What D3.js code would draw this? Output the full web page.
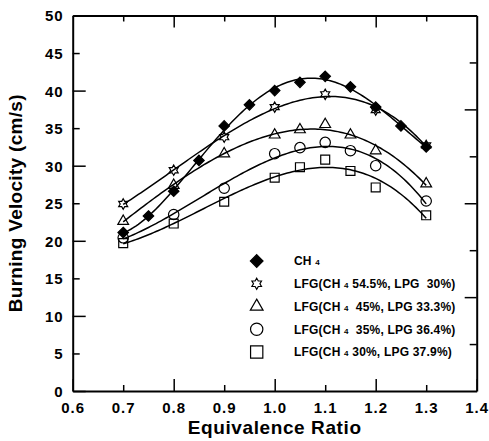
<!DOCTYPE html>
<html>
<head>
<meta charset="utf-8">
<script src="https://cdn.jsdelivr.net/npm/d3@7"></script>
<style>
  html, body { margin: 0; padding: 0; background: #fff; }
  svg { display: block; font-family: "Liberation Sans", Arial, Helvetica, sans-serif; }
</style>
</head>
<body>
<svg id="chart" width="489" height="441"></svg>
<script>
// Burning velocity of CH4 and landfill-gas blends vs. equivalence ratio
const seriesNames = ["CH4", "LFG54", "LFG45", "LFG35", "LFG30"];
const legendMain = ["CH ", "LFG(CH ", "LFG(CH ", "LFG(CH ", "LFG(CH "];
const legendTail = ["", " 54.5%, LPG  30%)", "  45%, LPG 33.3%)", "  35%, LPG 36.4%)", " 30%, LPG 37.9%)"];

const phiCH4 = [0.7, 0.75, 0.8, 0.85, 0.9, 0.95, 1.0, 1.05, 1.1, 1.15, 1.2, 1.25, 1.3];
const velCH4 = [21.1, 23.3, 26.6, 30.7, 35.3, 38.1, 40.0, 41.1, 41.9, 40.5, 37.8, 35.3, 32.5];

const phiLFG = [0.7, 0.8, 0.9, 1.0, 1.05, 1.1, 1.15, 1.2, 1.3];
const phiLFG54 = [0.7, 0.8, 0.9, 1.0, 1.1, 1.2, 1.3];
const velLFG54 = [24.9, 29.4, 33.8, 37.8, 39.5, 37.4, 32.7];
const velLFG45 = [22.6, 27.4, 31.6, 34.1, 34.8, 35.5, 34.1, 32.0, 27.6];
const velLFG35 = [20.4, 23.5, 27.0, 31.6, 32.4, 33.1, 32.0, 30.0, 25.3];
const velLFG30 = [19.7, 22.3, 25.2, 28.4, 29.8, 30.8, 29.3, 27.1, 23.4];

const xTicks = [0.6, 0.7, 0.8, 0.9, 1.0, 1.1, 1.2, 1.3, 1.4];
const yTicks = [0, 5, 10, 15, 20, 25, 30, 35, 40, 45, 50];
const rightTicks = [1, 2, 3, 4, 5, 6, 7];

const svg = d3.select("#chart");
const L = 72.7, R = 476.7, T = 15.5, B = 391;
const x = d3.scaleLinear().domain([0.6, 1.4]).range([L, R]);
const y = d3.scaleLinear().domain([0, 50]).range([B, T]);
const yRight = d3.scaleLinear().domain([0, 8]).range([B, T]);

// six-pointed outline star
const hexagram = {
  draw(ctx, size) {
    const r = Math.sqrt(size) * 0.62, ri = r * 0.577;
    for (let i = 0; i < 12; i++) {
      const a = -Math.PI / 2 + i * Math.PI / 6;
      const rr = i % 2 === 0 ? r : ri;
      const px = rr * Math.cos(a), py = rr * Math.sin(a);
      if (i === 0) ctx.moveTo(px, py); else ctx.lineTo(px, py);
    }
    ctx.closePath();
  }
};
// square turned 45 degrees
const diamond = {
  draw(ctx, size) {
    const r = Math.sqrt(size / 2);
    ctx.moveTo(0, -r); ctx.lineTo(r, 0); ctx.lineTo(0, r); ctx.lineTo(-r, 0);
    ctx.closePath();
  }
};

const series = [
  { xs: phiCH4, ys: velCH4, deg: 4, type: diamond, size: 55, legSize: 80, fill: "#000" },
  { xs: phiLFG54, ys: velLFG54, deg: 3, type: hexagram, size: 70, legSize: 80, fill: "none" },
  { xs: phiLFG, ys: velLFG45, deg: 3, type: d3.symbolTriangle, size: 50, legSize: 70, fill: "none" },
  { xs: phiLFG, ys: velLFG35, deg: 3, type: d3.symbolCircle, size: 85, legSize: 120, fill: "none" },
  { xs: phiLFG, ys: velLFG30, deg: 3, type: d3.symbolSquare, size: 80, legSize: 150, fill: "none" }
];

// least-squares polynomial trend line
function polyfit(xs, ys, deg) {
  const n = deg + 1;
  const A = Array.from({ length: n }, () => new Array(n + 1).fill(0));
  xs.forEach((xv, k) => {
    const t = xv - 1.0;
    for (let i = 0; i < n; i++) {
      for (let j = 0; j < n; j++) A[i][j] += Math.pow(t, i + j);
      A[i][n] += ys[k] * Math.pow(t, i);
    }
  });
  for (let c = 0; c < n; c++) {
    let p = c;
    for (let r = c + 1; r < n; r++) if (Math.abs(A[r][c]) > Math.abs(A[p][c])) p = r;
    [A[c], A[p]] = [A[p], A[c]];
    for (let r = 0; r < n; r++) {
      if (r === c) continue;
      const f = A[r][c] / A[c][c];
      for (let k = c; k <= n; k++) A[r][k] -= f * A[c][k];
    }
  }
  const coef = A.map((row, i) => row[n] / row[i]);
  return xv => coef.reduce((s, c, i) => s + c * Math.pow(xv - 1.0, i), 0);
}

const line = d3.line().x(d => x(d[0])).y(d => y(d[1])).curve(d3.curveLinear);
const fitX = d3.range(0.7, 1.3001, 0.005);

const plot = svg.append("g");
series.forEach(s => {
  const f = polyfit(s.xs, s.ys, s.deg);
  plot.append("path")
    .attr("d", line(fitX.map(v => [v, f(v)])))
    .attr("fill", "none").attr("stroke", "#000").attr("stroke-width", 1.5);
});
series.forEach(s => {
  const sym = d3.symbol().type(s.type).size(s.size);
  plot.selectAll(null).data(s.xs.map((v, i) => [v, s.ys[i]])).enter()
    .append("path")
    .attr("transform", d => `translate(${x(d[0])},${y(d[1])})`)
    .attr("d", sym)
    .attr("fill", s.fill).attr("stroke", "#000").attr("stroke-width", 1.2);
});

// axes: inward ticks, major ticks longer
const fmtX = d3.format(".1f");
const isMajorX = v => Math.round(v * 10) % 2 === 0;

const gx = svg.append("g").attr("transform", `translate(0,${B})`)
  .call(d3.axisBottom(x).tickValues(xTicks).tickFormat(fmtX).tickSizeOuter(0).tickPadding(0));
gx.selectAll(".tick line").attr("y2", d => isMajorX(d) ? -12 : -6);
gx.selectAll(".tick text").attr("y", 11);

const gxTop = svg.append("g").attr("transform", `translate(0,${T})`)
  .call(d3.axisTop(x).tickValues(xTicks.slice(1, -1)).tickFormat("").tickSizeOuter(0));
gxTop.selectAll(".tick line").attr("y2", d => isMajorX(d) ? 12 : 6);

const gy = svg.append("g").attr("transform", `translate(${L},0)`)
  .call(d3.axisLeft(y).tickValues(yTicks).tickFormat(d3.format("d")).tickSizeOuter(0).tickPadding(0));
gy.selectAll(".tick line").attr("x2", d => d % 10 === 0 ? 13 : 7);
gy.selectAll(".tick text").attr("x", -9).attr("dy", "0.36em");

const gyR = svg.append("g").attr("transform", `translate(${R},0)`)
  .call(d3.axisRight(yRight).tickValues(rightTicks).tickFormat("").tickSizeOuter(0));
gyR.selectAll(".tick line").attr("x2", d => d % 2 === 0 ? -12 : -7);

svg.selectAll(".domain").attr("stroke", "#000").attr("stroke-width", 2);
svg.selectAll(".tick line").attr("stroke", "#000").attr("stroke-width", 1.5);
svg.selectAll(".tick text")
  .attr("font-family", "'Liberation Sans', Arial, sans-serif")
  .attr("font-size", 15).attr("font-weight", "bold")
  .attr("letter-spacing", 1).attr("fill", "#000");

// axis titles
svg.append("text")
  .attr("x", (L + R) / 2).attr("y", 434)
  .attr("text-anchor", "middle")
  .attr("font-size", 19).attr("font-weight", "bold").attr("letter-spacing", 0.6)
  .text("Equivalence Ratio");
svg.append("text")
  .attr("transform", `translate(22,${(T + B) / 2}) rotate(-90)`)
  .attr("text-anchor", "middle")
  .attr("font-size", 19).attr("font-weight", "bold").attr("letter-spacing", 0.3)
  .text("Burning Velocity (cm/s)");

// legend
const legend = svg.append("g");
series.forEach((s, i) => {
  const cy = 261 + i * 22.75;
  legend.append("path")
    .attr("transform", `translate(256.7,${cy})`)
    .attr("d", d3.symbol().type(s.type).size(s.legSize))
    .attr("fill", s.fill).attr("stroke", "#000").attr("stroke-width", 1.2);
  const t = legend.append("text")
    .attr("x", 294).attr("y", cy + 4.3)
    .attr("font-size", 12).attr("font-weight", "bold")
    .attr("letter-spacing", 0.2)
    .style("white-space", "pre");
  t.append("tspan").text(legendMain[i]);
  t.append("tspan").attr("font-size", 8).text("4");
  t.append("tspan").text(legendTail[i]);
});
</script>
</body>
</html>
